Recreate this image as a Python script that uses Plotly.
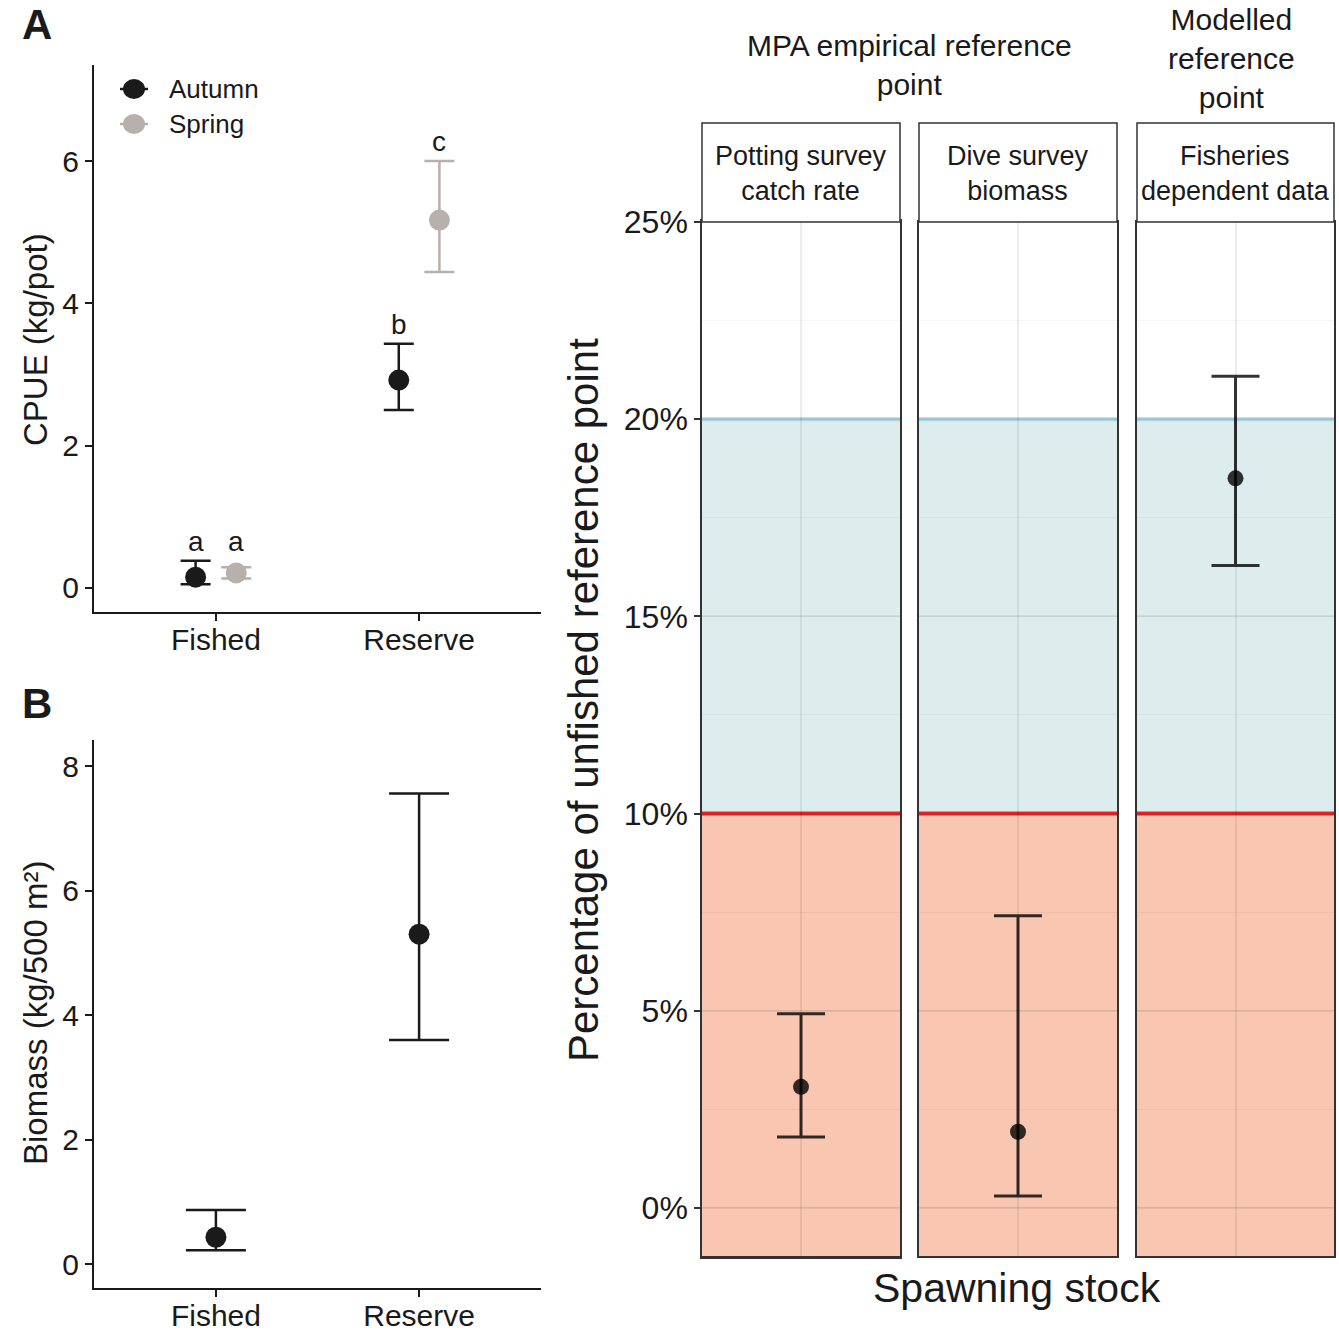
import numpy as np
import plotly.graph_objects as go

# ---------------- data ----------------
sites = ["Fished", "Reserve"]
seasons = ["Autumn", "Spring"]

# Panel A: CPUE (kg/pot), mean with lower/upper interval
cpue_autumn_mean = [0.15, 2.92]
cpue_autumn_lower = [0.05, 2.50]
cpue_autumn_upper = [0.38, 3.43]
cpue_spring_mean = [0.21, 5.17]
cpue_spring_lower = [0.13, 4.44]
cpue_spring_upper = [0.29, 6.00]
cpue_autumn_letters = ["a", "b"]
cpue_spring_letters = ["a", "c"]

# Panel B: dive survey biomass (kg/500 m2)
biomass_mean = [0.43, 5.30]
biomass_lower = [0.22, 3.60]
biomass_upper = [0.87, 7.56]

# Right panel: spawning stock as % of unfished reference point
ref_methods = ["Potting survey<br>catch rate", "Dive survey<br>biomass", "Fisheries<br>dependent data"]
ref_groups = ["MPA empirical reference<br>point", "Modelled<br>reference<br>point"]
stock_category = ["Spawning stock"]
stock_mean = [3.07, 1.93, 18.50]
stock_lower = [1.80, 0.30, 16.29]
stock_upper = [4.92, 7.41, 21.09]
pct_ticks = [0, 5, 10, 15, 20, 25]
limit_ref = 10
target_ref = 20

# ---------------- styling ----------------
W, H = 1339, 1333
FONT = "Liberation Sans, Arial, sans-serif"
INK = "#1a1a1a"
AUTUMN_COL = "#1a1a1a"
SPRING_COL = "#b7b0ac"
GRID = "rgba(0,0,0,0.07)"
GRID_MINOR = "rgba(0,0,0,0.04)"


def px_x(p):
    return p / W


def px_y(p):
    return 1 - p / H


def label(fig, x, y, text, size, **kw):
    """Paper-anchored text placed by its centre unless told otherwise."""
    opts = dict(xanchor="center", yanchor="middle")
    opts.update(kw)
    fig.add_annotation(x=px_x(x), y=px_y(y), xref="paper", yref="paper", text=text,
                       showarrow=False, font=dict(family=FONT, size=size, color=INK),
                       **opts)


fig = go.Figure()

# ---------------- panel A ----------------
site_idx = np.arange(1, len(sites) + 1)
dodge = 0.1
for name, mean, lo, hi, col, off in [
    ("Autumn", cpue_autumn_mean, cpue_autumn_lower, cpue_autumn_upper, AUTUMN_COL, -dodge),
    ("Spring", cpue_spring_mean, cpue_spring_lower, cpue_spring_upper, SPRING_COL, dodge),
]:
    mean = np.array(mean)
    fig.add_trace(go.Scatter(
        x=site_idx + off, y=mean, mode="markers", name=name,
        marker=dict(size=21, color=col),
        error_y=dict(type="data", symmetric=False,
                     array=np.array(hi) - mean, arrayminus=mean - np.array(lo),
                     color=col, thickness=2.5, width=15),
        xaxis="x", yaxis="y", showlegend=False,
    ))

# significance letters; equal letters within a site share one height
for letters, hi, other_letters, other_hi, off in [
    (cpue_autumn_letters, cpue_autumn_upper, cpue_spring_letters, cpue_spring_upper, -dodge),
    (cpue_spring_letters, cpue_spring_upper, cpue_autumn_letters, cpue_autumn_upper, dodge),
]:
    for i, lab in enumerate(letters):
        top = max(hi[i], other_hi[i]) if lab == other_letters[i] else hi[i]
        fig.add_annotation(x=site_idx[i] + off, y=top, xref="x", yref="y", text=lab,
                           showarrow=False, xanchor="center", yanchor="bottom", yshift=2,
                           font=dict(family=FONT, size=28, color=INK))

# ---------------- panel B ----------------
bm = np.array(biomass_mean)
fig.add_trace(go.Scatter(
    x=site_idx, y=bm, mode="markers",
    marker=dict(size=21, color=AUTUMN_COL),
    error_y=dict(type="data", symmetric=False,
                 array=np.array(biomass_upper) - bm, arrayminus=bm - np.array(biomass_lower),
                 color=AUTUMN_COL, thickness=2.5, width=30),
    xaxis="x2", yaxis="y2", showlegend=False,
))

left_dom = [px_x(94), px_x(541)]
left_x = dict(range=[0.4, 2.6], tickvals=list(site_idx), ticktext=sites,
              showline=True, linecolor=INK, linewidth=2, ticks="outside", ticklen=7,
              tickwidth=2, tickcolor=INK, showgrid=False, zeroline=False,
              ticklabelstandoff=-7, automargin=False,
              tickfont=dict(family=FONT, size=30, color=INK), domain=left_dom)
left_y = dict(showline=True, linecolor=INK, linewidth=2, ticks="outside", ticklen=7,
              tickwidth=2, tickcolor=INK, showgrid=False, zeroline=False,
              automargin=False, tickfont=dict(family=FONT, size=30, color=INK))

fig.update_layout(
    xaxis=dict(left_x, anchor="y"),
    yaxis=dict(left_y, anchor="x", domain=[px_y(612), px_y(65)],
               range=[-0.34, 7.35], tickvals=[0, 2, 4, 6]),
    xaxis2=dict(left_x, anchor="y2"),
    yaxis2=dict(left_y, anchor="x2", domain=[px_y(1288), px_y(740)],
                range=[-0.385, 8.42], tickvals=[0, 2, 4, 6, 8]),
)

# ---------------- right facets ----------------
facet_px = [(702, 900), (919, 1117), (1137, 1334)]
y_dom = [px_y(1256), px_y(222)]
yr = [-1.22, 25]
shapes = []
for k, (x0p, x1p) in enumerate(facet_px):
    xa = f"xaxis{k + 3}"
    ya = f"yaxis{k + 3}"
    xr = f"x{k + 3}"
    yrf = f"y{k + 3}"
    m = np.array([stock_mean[k]])
    fig.add_trace(go.Scatter(
        x=stock_category, y=m, mode="markers",
        marker=dict(size=16, color="rgba(0,0,0,0.8)"),
        error_y=dict(type="data", symmetric=False,
                     array=np.array([stock_upper[k]]) - m,
                     arrayminus=m - np.array([stock_lower[k]]),
                     color="rgba(0,0,0,0.8)", thickness=3, width=24),
        xaxis=xr, yaxis=yrf, showlegend=False,
    ))
    fig.layout[xa] = dict(
        domain=[px_x(x0p), px_x(x1p)], anchor=yrf, type="category",
        range=[-0.6, 0.6], showticklabels=False, ticks="", automargin=False,
        showgrid=True, gridcolor=GRID, gridwidth=2, zeroline=False,
        showline=True, mirror=True, linecolor="#333333",
        linewidth=3 if k == 0 else 1.5,
    )
    fig.layout[ya] = dict(
        domain=y_dom, anchor=xr, range=yr, automargin=False,
        tickvals=pct_ticks, ticktext=[f"{v}%" for v in pct_ticks],
        showticklabels=(k == 0), ticks="outside" if k == 0 else "",
        ticklen=6, tickwidth=2, tickcolor="#333333",
        tickfont=dict(family=FONT, size=32, color=INK),
        showgrid=True, gridcolor=GRID, gridwidth=2, zeroline=False,
        minor=dict(dtick=2.5, tick0=0, showgrid=True, gridcolor=GRID_MINOR, gridwidth=1),
        showline=True, mirror=True, linecolor="#333333", linewidth=1.5,
    )
    # shaded zones: below limit and between limit and target
    shapes.append(dict(type="rect", xref=xr, yref=yrf, x0=-0.6, x1=0.6,
                       y0=yr[0], y1=limit_ref, fillcolor="#f9c6b1",
                       line_width=0, layer="below"))
    shapes.append(dict(type="rect", xref=xr, yref=yrf, x0=-0.6, x1=0.6,
                       y0=limit_ref, y1=target_ref, fillcolor="#ddeded",
                       line_width=0, layer="below"))
    shapes.append(dict(type="line", xref=xr, yref=yrf, x0=-0.6, x1=0.6,
                       y0=target_ref, y1=target_ref, line=dict(color="#add8e6", width=4),
                       layer="below"))
    shapes.append(dict(type="line", xref=xr, yref=yrf, x0=-0.6, x1=0.6,
                       y0=limit_ref, y1=limit_ref, line=dict(color="#e8262a", width=4),
                       layer="below"))
    # strip box
    shapes.append(dict(type="rect", xref="paper", yref="paper",
                       x0=px_x(x0p), x1=px_x(x1p), y0=px_y(222), y1=px_y(123),
                       fillcolor="white", line=dict(color="#333333", width=1.5)))
    label(fig, (x0p + x1p) / 2, 173, ref_methods[k], 27)

# group headings over the facets
label(fig, 909, 65, ref_groups[0], 30)
label(fig, 1231, 59, ref_groups[1], 30)

# axis titles
label(fig, 1017, 1288, "Spawning stock", 41)
label(fig, 583, 700, "Percentage of unfished reference point", 42, textangle=-90)
label(fig, 35, 340, "CPUE (kg/pot)", 33, textangle=-90)
label(fig, 35, 1013, "Biomass (kg/500 m²)", 33, textangle=-90)

# panel letters
label(fig, 37, 25, "<b>A</b>", 42)
label(fig, 37, 703, "<b>B</b>", 42)

# legend for panel A (glyph = point with short interval bar)
for name, col, yy in [("Autumn", AUTUMN_COL, 89), ("Spring", SPRING_COL, 124)]:
    shapes.append(dict(type="line", xref="paper", yref="paper",
                       x0=px_x(120), x1=px_x(148), y0=px_y(yy), y1=px_y(yy),
                       line=dict(color=col, width=2.5)))
    shapes.append(dict(type="circle", xref="paper", yref="paper",
                       x0=px_x(123), x1=px_x(145), y0=px_y(yy + 10), y1=px_y(yy - 10),
                       fillcolor=col, line=dict(color=col, width=0)))
    label(fig, 167, yy, name, 26, xanchor="left")

fig.update_layout(
    template="none",
    width=W, height=H, margin=dict(l=0, r=0, t=0, b=0, autoexpand=False),
    paper_bgcolor="white", plot_bgcolor="white",
    shapes=shapes, showlegend=False,
    font=dict(family=FONT, color=INK),
)

fig.write_html("out.html")
